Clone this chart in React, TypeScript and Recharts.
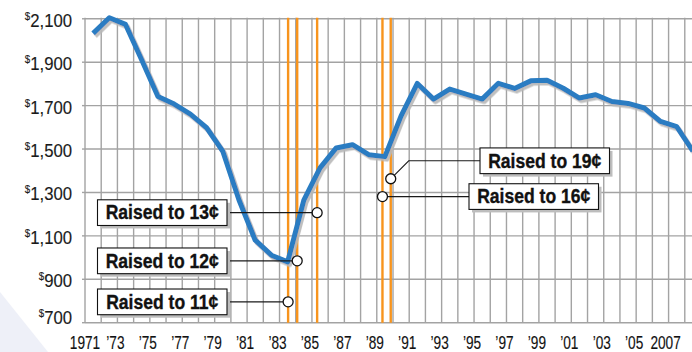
import {
  LineChart,
  Line,
  XAxis,
  YAxis,
  CartesianGrid,
  ReferenceLine,
  ReferenceDot,
} from 'recharts';

// Yearly totals, plotted at mid-year
const years = [
  1971, 1972, 1973, 1974, 1975, 1976, 1977, 1978, 1979, 1980,
  1981, 1982, 1983, 1984, 1985, 1986, 1987, 1988, 1989, 1990,
  1991, 1992, 1993, 1994, 1995, 1996, 1997, 1998, 1999, 2000,
  2001, 2002, 2003, 2004, 2005, 2006, 2007, 2008,
];
const amounts = [
  2033, 2105, 2074, 1910, 1742, 1707, 1661, 1598, 1490, 1265,
  1080, 1011, 980, 1265, 1413, 1505, 1520, 1474, 1465, 1653,
  1802, 1730, 1776, 1753, 1730, 1803, 1779, 1814, 1817, 1780,
  1735, 1750, 1719, 1710, 1689, 1627, 1603, 1490,
];

// Rate changes (decimal year) and where each marker sits on the value axis
const rateDates = [1983.53, 1984.09, 1985.32, 1989.35, 1989.86];
const rateLabels = ['Raised to 11¢', 'Raised to 12¢', 'Raised to 13¢', 'Raised to 16¢', 'Raised to 19¢'];
const markerLevels = [796, 985, 1207, 1281, 1363];

const xTicks = [1971, 1973, 1975, 1977, 1979, 1981, 1983, 1985, 1987, 1989, 1991, 1993, 1995, 1997, 1999, 2001, 2003, 2005, 2007];
const gridYears = years;
const yTicks = [700, 900, 1100, 1300, 1500, 1700, 1900, 2100];

const data = years.map((y, i) => ({ t: y + 0.5, amount: amounts[i] }));

// callout box placement (pixels)
const BOX_W = 129.5;
const BOX_H = 25.7;
const calloutLayout = [
  { side: 'left', edge: 227 },
  { side: 'left', edge: 227 },
  { side: 'left', edge: 227 },
  { side: 'right', edge: 469 },
  { side: 'right', edge: 480, elbow: [18, -18] },
];

const BLUE = '#2a7cc2';
const ORANGE = '#f7941d';
const GRID = '#a3a3a3';
const FONT = "'Liberation Sans', Arial, sans-serif";

function yearLabel(y: number) {
  if (y === 1971 || y === 2007) return String(y);
  return '\u2019' + String(y).slice(2);
}

function XTick({ x, y, payload }: any) {
  const v = payload.value as number;
  const full = v === 1971 || v === 2007;
  return (
    <g transform={`translate(${x + (full ? (v === 2007 ? -3 : 0) : -2)},${y + 26.6}) scale(0.78,1)`}>
      <text textAnchor="middle" fontFamily={FONT} fontSize={17.5} fill="#111" stroke="#111" strokeWidth={0.15}>
        {yearLabel(v)}
      </text>
    </g>
  );
}

function YTick({ x, y, payload }: any) {
  const v = payload.value as number;
  const lift = v === 700 ? 1.5 : 8;
  return (
    <g transform={`translate(${x - 10},${y + lift}) scale(0.88,1)`}>
      <text textAnchor="end" fontFamily={FONT} fontSize={19} fill="#1a1a1a" stroke="#1a1a1a" strokeWidth={0.15}>
        <tspan fontSize={11} dy={-7}>$</tspan>
        <tspan dy={7}>{v.toLocaleString('en-US')}</tspan>
      </text>
    </g>
  );
}

function Callout({ cx, cy, text, layout }: any) {
  const left = layout.side === 'left';
  let bx: number;
  let by: number;
  let leader: string;
  if (left) {
    bx = layout.edge - BOX_W;
    by = cy - BOX_H / 2;
    leader = `M${layout.edge},${cy}H${cx}`;
  } else if (layout.elbow) {
    const ex = cx + layout.elbow[0];
    const ey = cy + layout.elbow[1];
    bx = layout.edge;
    by = ey - BOX_H / 2;
    leader = `M${cx},${cy}L${ex},${ey}H${layout.edge}`;
  } else {
    bx = layout.edge;
    by = cy - BOX_H / 2;
    leader = `M${cx},${cy}H${layout.edge}`;
  }
  return (
    <g>
      <path d={leader} stroke="#1a1a1a" strokeWidth={1.1} fill="none" />
      <rect x={bx + 3} y={by + 3} width={BOX_W} height={BOX_H} fill="#bdbdbd" />
      <rect x={bx} y={by} width={BOX_W} height={BOX_H} fill="#fff" stroke="#111" strokeWidth={1.1} />
      <g transform={`translate(${bx + BOX_W / 2},${by + 19.7}) scale(0.9,1)`}>
        <text
          textAnchor="middle"
          fontFamily={FONT}
          fontWeight="bold"
          fontSize={19.5}
          fill="#111"
          stroke="#111"
          strokeWidth={0.35}
        >
          {text}
        </text>
      </g>
      <circle cx={cx} cy={cy} r={5} fill="#fff" stroke="#111" strokeWidth={1.3} />
    </g>
  );
}

export default function App() {
  return (
    <div style={{ position: 'absolute', left: 0, top: 0, width: 692, height: 352, overflow: 'hidden', background: '#fff' }}>
      <svg width={692} height={352} style={{ position: 'absolute', left: 0, top: 0 }}>
        <polygon points="0,292 48,352 0,352" fill="#eef0f8" />
      </svg>
      <div style={{ position: 'absolute', left: 0, top: 0 }}>
        <LineChart width={701} height={352} data={data} margin={{ top: 17.7, right: 0, bottom: 0, left: 0 }}>
          <defs>
            <filter id="lineShadow" x="-5%" y="-10%" width="110%" height="130%">
              <feDropShadow dx="2" dy="2.5" stdDeviation="0.7" floodColor="#b8b8b8" floodOpacity="0.9" />
            </filter>
          </defs>
          <CartesianGrid horizontalValues={yTicks} verticalValues={gridYears} stroke={GRID} strokeWidth={1.4} />
          <XAxis
            dataKey="t"
            type="number"
            domain={[1971, 2009]}
            allowDataOverflow
            ticks={xTicks}
            interval={0}
            height={29.3}
            axisLine={false}
            tickLine={false}
            tickSize={0}
            tickMargin={0}
            tick={<XTick />}
          />
          <YAxis
            type="number"
            domain={[700, 2100]}
            ticks={yTicks}
            width={85}
            axisLine={false}
            tickLine={{ stroke: GRID, strokeWidth: 1.4 }}
            tickSize={3}
            tickMargin={0}
            tick={<YTick />}
          />
          {rateDates.map((d) => (
            <ReferenceLine key={d} x={d} stroke={ORANGE} strokeWidth={2.4} />
          ))}
          <Line
            dataKey="amount"
            stroke={BLUE}
            strokeWidth={5}
            dot={false}
            strokeLinejoin="round"
            filter="url(#lineShadow)"
            isAnimationActive={false}
          />
          {rateDates.map((d, i) => (
            <ReferenceDot
              key={rateLabels[i]}
              x={d}
              y={markerLevels[i]}
              r={5}
              shape={(p: any) => <Callout cx={p.cx} cy={p.cy} text={rateLabels[i]} layout={calloutLayout[i]} />}
            />
          ))}
        </LineChart>
      </div>
    </div>
  );
}
